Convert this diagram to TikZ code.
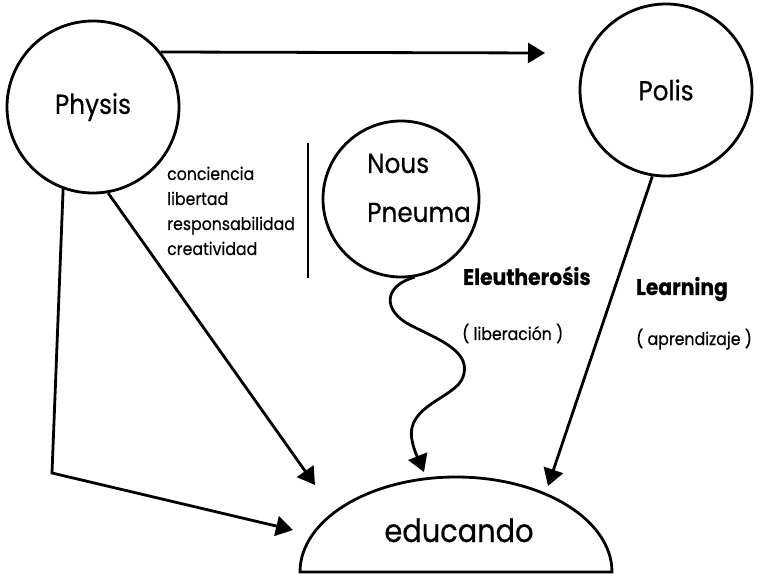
\documentclass[tikz,border=0pt]{standalone}
\usepackage{fontspec}
\setmainfont[FakeStretch=0.9, FakeBold=0.5]{Poppins}
\usetikzlibrary{arrows.meta}
\begin{document}
\begin{tikzpicture}[x=1pt,y=-1pt,
  conn/.style={line width=2.8pt, -{Triangle[length=17pt,width=20pt]}},
  plain/.style={line width=2.8pt},
  ring/.style={circle, draw, line width=2.8pt, inner sep=0pt},
  lbl/.style={inner sep=0pt, anchor=base west},
  big/.style={font=\fontsize{27.5}{32}\selectfont},
  small/.style={font=\fontsize{17.5}{21}\selectfont},
  strong/.style={font=\fontsize{22.5}{27}\selectfont\bfseries},
]
\useasboundingbox (0,0) rectangle (763,577);

% the three spheres
\node[ring, big, minimum size=172pt] (physis) at (93,107) {Physis};
\node[ring, big, minimum size=172pt] (polis) at (666,90) {Polis};
\node[ring, minimum size=156pt] (nous) at (401,199) {};
\node[lbl, big] (nousA) at (367,173) {Nous};
\node[lbl, big] (nousB) at (367,222) {Pneuma};

% the learner
\draw[plain] (300,572) arc[start angle=180, end angle=0, x radius=156pt, y radius=95pt] -- cycle;
\node[font=\fontsize{32}{38}\selectfont, anchor=base, inner sep=0pt] (educando) at (459,542) {educando};

% faculties
\node[lbl, small] (conciencia) at (167,180) {conciencia};
\node[lbl, small] (libertad) at (167,205) {libertad};
\node[lbl, small] (resp) at (167,230) {responsabilidad};
\node[lbl, small] (creat) at (167,255) {creatividad};
\draw[plain] (308,143) -- (308,278);

% path labels
\node[lbl, strong] (eleu) at (463,285) {Eleutherośis};
\node[lbl, small] (liber) at (462,340) {( liberación )};
\node[lbl, strong] (learn) at (636,295) {Learning};
\node[lbl, small] (aprend) at (636,345) {( aprendizaje )};

% arrow end points
\coordinate (tipA) at (545,53);
\coordinate (tipB) at (315,485);
\coordinate (bend) at (52,473);
\coordinate (tipC) at (293,530);
\coordinate (tipD) at (424,472);
\coordinate (tipE) at (548,486);

% connectors
\draw[conn] (physis.39) -- (tipA);
\draw[conn] (physis.-80) -- (tipB);
\draw[conn] (physis.-110) -- (bend) -- (tipC);
\draw[conn] (nous.-80) .. controls (385,285) and (380,310) .. (412,326)
  .. controls (440,340) and (472,352) .. (463,377)
  .. controls (456,398) and (405,405) .. (412,440)
  .. controls (414,452) and (420,462) .. (tipD);
\draw[conn] (polis.-99) -- (tipE);
\end{tikzpicture}
\end{document}
